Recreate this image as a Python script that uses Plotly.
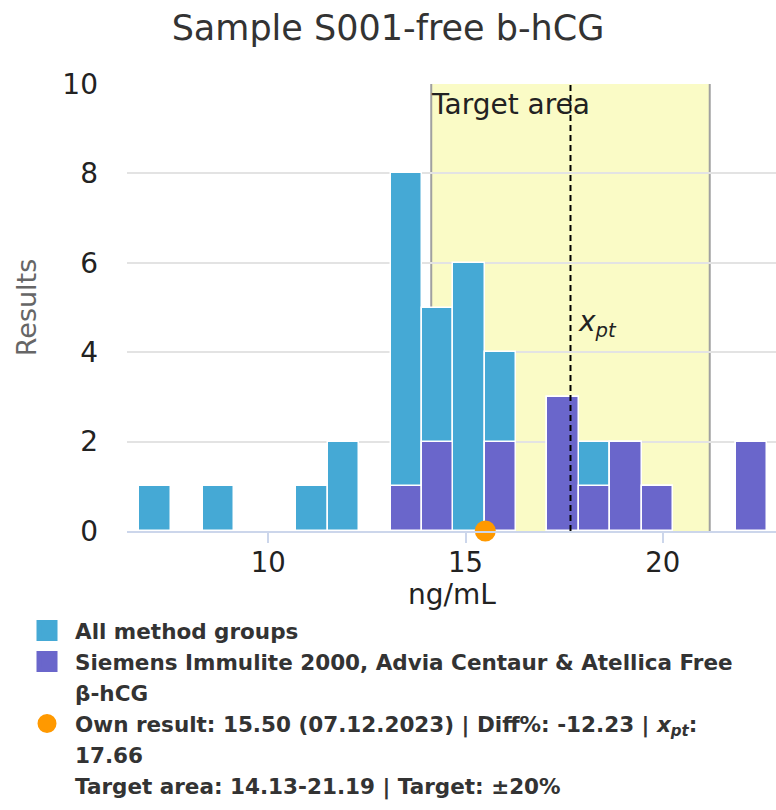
import plotly.graph_objects as go

# ---- data ----
bin_centers = [7.13, 8.73, 11.11, 11.91, 13.50, 14.29, 15.09, 15.88, 17.47, 18.27, 19.07, 19.86, 22.25]
all_counts = [1, 1, 1, 2, 8, 5, 6, 4, 3, 2, 2, 1, 2]
siemens_counts = [0, 0, 0, 0, 1, 2, 0, 2, 3, 1, 2, 1, 2]
bin_width = 0.795
own_result = 15.50
x_pt = 17.66
target_low = 14.13
target_high = 21.19
y_tickvals = [0, 2, 4, 6, 8, 10]
x_tickvals = [10, 15, 20]

name_all = "All method groups"
name_siemens = "Siemens Immulite 2000, Advia Centaur & Atellica Free"
name_siemens2 = "β-hCG"
name_own = "Own result: 15.50 (07.12.2023) | Diff%: -12.23 | <i>x<sub>pt</sub></i>:"
name_own2 = "17.66"
name_target = "Target area: 14.13-21.19 | Target: ±20%"
title_text = "Sample S001-free b-hCG"
x_title = "ng/mL"
y_title = "Results"

BLUE = "#45A9D5"
PURPLE = "#6A66CB"
ORANGE = "#FF9900"
FONT = "DejaVu Sans"

fig = go.Figure()

fig.add_trace(go.Bar(
    x=bin_centers, y=all_counts, width=bin_width,
    marker=dict(color=BLUE, line=dict(color="white", width=1.5)),
    name=name_all, showlegend=False, legendgroup="all",
))
sx = [c for c, v in zip(bin_centers, siemens_counts) if v > 0]
sy = [v for v in siemens_counts if v > 0]
fig.add_trace(go.Bar(
    x=sx, y=sy, width=bin_width,
    marker=dict(color=PURPLE, line=dict(color="white", width=1.5)),
    name=name_siemens, showlegend=False, legendgroup="siemens",
))
fig.add_trace(go.Scatter(
    x=[own_result], y=[0], mode="markers",
    marker=dict(color=ORANGE, size=19, line=dict(color=ORANGE, width=2)),
    cliponaxis=False, name=name_own, showlegend=False, legendgroup="own",
))


# legend entries
def legend_entry(name, color, symbol, size, lw, group):
    fig.add_trace(go.Scatter(
        x=[None], y=[None], mode="markers", name=name, legendgroup=group,
        marker=dict(color=color, symbol=symbol, size=size, line=dict(color=color, width=lw)),
        showlegend=True, hoverinfo="skip",
    ))


legend_entry(name_all, BLUE, "square", 16, 5, "all")
legend_entry(name_siemens, PURPLE, "square", 16, 5, "siemens")
legend_entry(name_siemens2, "rgba(0,0,0,0)", "square", 16, 0, "siemens")
legend_entry(name_own, ORANGE, "circle", 16, 3, "own")
legend_entry(name_own2, "rgba(0,0,0,0)", "circle", 16, 0, "own")
legend_entry(name_target, "rgba(0,0,0,0)", "circle", 16, 0, "target")

# target area band
fig.add_shape(type="rect", xref="x", yref="y domain", x0=target_low, x1=target_high, y0=0, y1=1,
              fillcolor="#FAFBC6", line=dict(width=0), layer="below")
for xv in (target_low, target_high):
    fig.add_shape(type="line", xref="x", yref="y domain", x0=xv, x1=xv, y0=0, y1=1,
                  line=dict(color="#A0A0A0", width=2), layer="below")
# x_pt line
fig.add_shape(type="line", xref="x", yref="y domain", x0=x_pt, x1=x_pt, y0=0, y1=1,
              line=dict(color="black", width=2, dash="6px,4px"), layer="above")

fig.add_annotation(x=target_low, xref="x", y=0.955, yref="y domain", text="Target area",
                   showarrow=False, xanchor="left", yanchor="middle", xshift=-2,
                   font=dict(family=FONT, size=28, color="#222"))
fig.add_annotation(x=x_pt, xref="x", y=0.465, yref="y domain", text="<i>x<sub>pt</sub></i>",
                   showarrow=False, xanchor="left", yanchor="middle", xshift=6,
                   font=dict(family=FONT, size=28, color="#222"))
# x axis title
fig.add_annotation(x=0.5, xref="x domain", y=-0.141, yref="y domain", text=x_title,
                   showarrow=False, xanchor="center", yanchor="middle",
                   font=dict(family=FONT, size=28, color="#222"))

fig.update_layout(
    width=776, height=810,
    margin=dict(l=127, r=0, t=84, b=279, autoexpand=False),
    paper_bgcolor="white", plot_bgcolor="white",
    barmode="overlay", bargap=0,
    font=dict(family=FONT, color="#333"),
    title=dict(text=title_text, x=0.5, xref="container", xanchor="center",
               y=1 - 28 / 810, yref="container", yanchor="middle",
               font=dict(family=FONT, size=35, color="#333")),
    showlegend=True,
    legend=dict(x=-0.1664, xanchor="left", y=-0.177, yanchor="top",
                orientation="v", itemwidth=46, traceorder="normal",
                font=dict(family=FONT, size=21.5, color="#333", weight="bold"),
                bgcolor="rgba(0,0,0,0)", itemclick=False, itemdoubleclick=False,
                tracegroupgap=0),
    xaxis=dict(range=[6.417, 22.87], tickvals=x_tickvals, showgrid=False, zeroline=False,
               showline=True, linecolor="#CCD6EB", linewidth=2,
               ticks="outside", ticklen=10, tickwidth=1.5, tickcolor="#CCD6EB",
               ticklabelstandoff=-4,
               tickfont=dict(family=FONT, size=27.5, color="#222")),
    yaxis=dict(range=[0, 10], tickvals=y_tickvals, showgrid=True, gridcolor="#E3E3E3", gridwidth=1.5,
               zeroline=False, showline=False, ticks="", ticklabelstandoff=28,
               tickfont=dict(family=FONT, size=28, color="#222"),
               title=dict(text=y_title, font=dict(family=FONT, size=27, color="#666"), standoff=17)),
)

fig.write_html("out.html", config={"displayModeBar": False},
               post_script="document.body.style.margin='0';document.body.style.overflow='hidden';")
